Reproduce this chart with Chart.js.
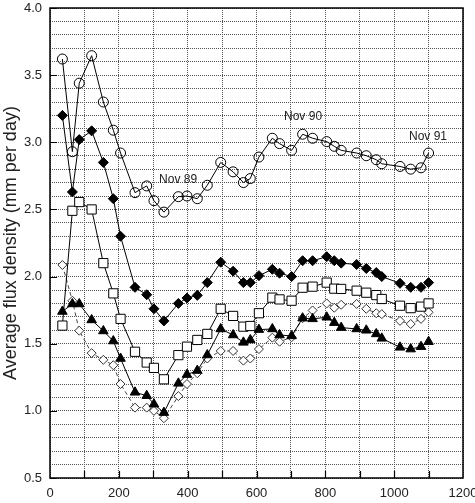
<!DOCTYPE html>
<html>
<head>
<meta charset="utf-8">
<script src="https://cdn.jsdelivr.net/npm/chart.js@4/dist/chart.umd.min.js"></script>
<style>
  html, body { margin: 0; padding: 0; background: #fff; }
  #wrap { width: 475px; height: 503px; position: relative; }
</style>
</head>
<body>
<div id="wrap"><canvas id="c" width="475" height="503"></canvas></div>
<script>
// Day number (x) shared by all series
const days = [36, 65, 85, 121, 155, 184, 205, 247, 281, 302, 331, 373, 398, 428, 457, 496, 532, 562, 582, 607,
              646, 667, 702, 734, 763, 804, 826, 846, 891, 919, 948, 964, 1017, 1048, 1078, 1100];

const seriesCircle = [3.62, 2.93, 3.44, 3.645, 3.30, 3.09, 2.92, 2.625, 2.675, 2.565, 2.48, 2.595, 2.60, 2.58, 2.68, 2.85, 2.78, 2.70, 2.73, 2.89,
                      3.03, 2.99, 2.94, 3.06, 3.03, 3.005, 2.97, 2.94, 2.92, 2.90, 2.87, 2.84, 2.82, 2.80, 2.81, 2.92];
const seriesFilledDiamond = [3.20, 2.63, 3.02, 3.085, 2.85, 2.58, 2.30, 1.92, 1.865, 1.76, 1.67, 1.80, 1.84, 1.86, 1.955, 2.107, 2.04, 1.955, 1.955, 2.007,
                      2.054, 2.025, 2.00, 2.118, 2.118, 2.148, 2.118, 2.10, 2.09, 2.06, 2.03, 2.00, 1.95, 1.92, 1.92, 1.955];
const seriesSquare = [1.635, 2.49, 2.555, 2.50, 2.10, 1.875, 1.685, 1.44, 1.36, 1.32, 1.235, 1.415, 1.478, 1.528, 1.573, 1.76, 1.707, 1.627, 1.632, 1.727,
                      1.843, 1.83, 1.82, 1.917, 1.925, 1.955, 1.91, 1.908, 1.895, 1.88, 1.862, 1.833, 1.783, 1.765, 1.776, 1.80];
const seriesTriangle = [1.74, 1.796, 1.796, 1.677, 1.595, 1.52, 1.39, 1.138, 1.113, 1.05, 0.987, 1.205, 1.27, 1.30, 1.416, 1.61, 1.565, 1.51, 1.528, 1.605,
                      1.61, 1.565, 1.558, 1.69, 1.685, 1.697, 1.657, 1.62, 1.61, 1.60, 1.573, 1.54, 1.473, 1.46, 1.478, 1.515];
const seriesOpenDiamond = [2.086, 1.82, 1.597, 1.43, 1.38, 1.34, 1.20, 1.024, 1.024, 1.00, 0.945, 1.11, 1.20, 1.28, 1.39, 1.446, 1.446, 1.374, 1.39, 1.46,
                      1.545, 1.515, 1.548, 1.69, 1.748, 1.80, 1.768, 1.79, 1.796, 1.76, 1.727, 1.72, 1.67, 1.647, 1.685, 1.734];

const xTickLabels = [0, 200, 400, 600, 800, 1000, 1200];
const yTickLabels = [0.5, 1.0, 1.5, 2.0, 2.5, 3.0, 3.5, 4.0];

const annotationTexts = ['Nov 89', 'Nov 90', 'Nov 91'];
const annotationX = [317, 680, 1043];
const annotationY = [2.72, 3.19, 3.04];

const yTitle = 'Average flux density (mm per day)';

function pts(vals) { return days.map((d, i) => ({ x: d, y: vals[i] })); }

const FONT = "'Liberation Sans', Arial, sans-serif";
const TEXT = '#222';

const framePlugin = {
  id: 'frame',
  afterDatasetsDraw(chart) {
    const { ctx, chartArea: a, scales: { x, y } } = chart;
    ctx.save();
    // major tick marks (inward)
    ctx.strokeStyle = '#000';
    ctx.lineWidth = 1.2;
    ctx.beginPath();
    for (let v = 100; v < 1200; v += 100) {
      const px = Math.round(x.getPixelForValue(v)) + 0.5;
      ctx.moveTo(px, a.bottom); ctx.lineTo(px, a.bottom - 7);
    }
    yTickLabels.forEach(v => {
      const py = Math.round(y.getPixelForValue(v)) + 0.5;
      ctx.moveTo(a.left, py); ctx.lineTo(a.left + 7, py);
    });
    ctx.stroke();
    // frame
    ctx.lineWidth = 1.5;
    ctx.strokeRect(a.left, a.top, a.right - a.left, a.bottom - a.top);
    // annotations
    ctx.fillStyle = TEXT;
    ctx.font = '12px ' + FONT;
    ctx.textAlign = 'left';
    ctx.textBaseline = 'middle';
    annotationTexts.forEach((t, i) => {
      ctx.fillText(t, x.getPixelForValue(annotationX[i]), y.getPixelForValue(annotationY[i]));
    });
    ctx.restore();
  }
};

const base = { borderColor: '#000', borderWidth: 1, pointBorderColor: '#000', pointBorderWidth: 1, tension: 0 };

new Chart(document.getElementById('c'), {
  type: 'line',
  data: {
    datasets: [
      Object.assign({}, base, { label: 'circle', data: pts(seriesCircle), pointStyle: 'circle', pointRadius: 5, pointBackgroundColor: 'rgba(0,0,0,0)' }),
      Object.assign({}, base, { label: 'filled diamond', data: pts(seriesFilledDiamond), pointStyle: 'rectRot', pointRadius: 5, pointBackgroundColor: '#000' }),
      Object.assign({}, base, { label: 'square', data: pts(seriesSquare), pointStyle: 'rect', pointRadius: 6.5, pointBackgroundColor: '#fff' }),
      Object.assign({}, base, { label: 'triangle', data: pts(seriesTriangle), pointStyle: 'triangle', pointRadius: 5.5, pointBackgroundColor: '#000' }),
      Object.assign({}, base, { label: 'open diamond', data: pts(seriesOpenDiamond), pointStyle: 'rectRot', pointRadius: 4.5, pointBackgroundColor: '#fff',
        borderColor: '#444', borderDash: [4, 3], pointBorderColor: '#333' })
    ]
  },
  options: {
    responsive: false,
    animation: false,
    devicePixelRatio: 1,
    layout: { padding: { top: 8, right: 12, left: 0, bottom: 0 } },
    plugins: { legend: { display: false }, tooltip: { enabled: false } },
    scales: {
      x: {
        type: 'linear', min: 0, max: 1200,
        ticks: { stepSize: 100, autoSkip: false, maxRotation: 0, color: TEXT, font: { family: FONT, size: 13 }, padding: 8,
          callback: v => (xTickLabels.includes(v) ? String(v) : '') },
        grid: { color: '#555', lineWidth: 1, drawTicks: false },
        border: { display: false, dash: [1, 1] },
        afterFit: s => { s.height = 25; s.paddingLeft = 0; s.paddingRight = 0; }
      },
      y: {
        type: 'linear', min: 0.5, max: 4.0,
        ticks: { stepSize: 0.1, autoSkip: false, color: TEXT, font: { family: FONT, size: 13 }, padding: 8,
          callback: v => { const r = Math.round(v * 10) / 10; return yTickLabels.some(t => Math.abs(t - r) < 1e-6) ? r.toFixed(1) : ''; } },
        grid: { color: '#555', lineWidth: 1, drawTicks: false },
        border: { display: false, dash: [1, 1] },
        title: { display: true, text: yTitle, color: TEXT, font: { family: FONT, size: 18 }, padding: { top: 0, bottom: 0 } },
        afterFit: s => { s.width = 50; s.paddingTop = 0; s.paddingBottom = 0; }
      }
    }
  },
  plugins: [framePlugin]
});
</script>
</body>
</html>
